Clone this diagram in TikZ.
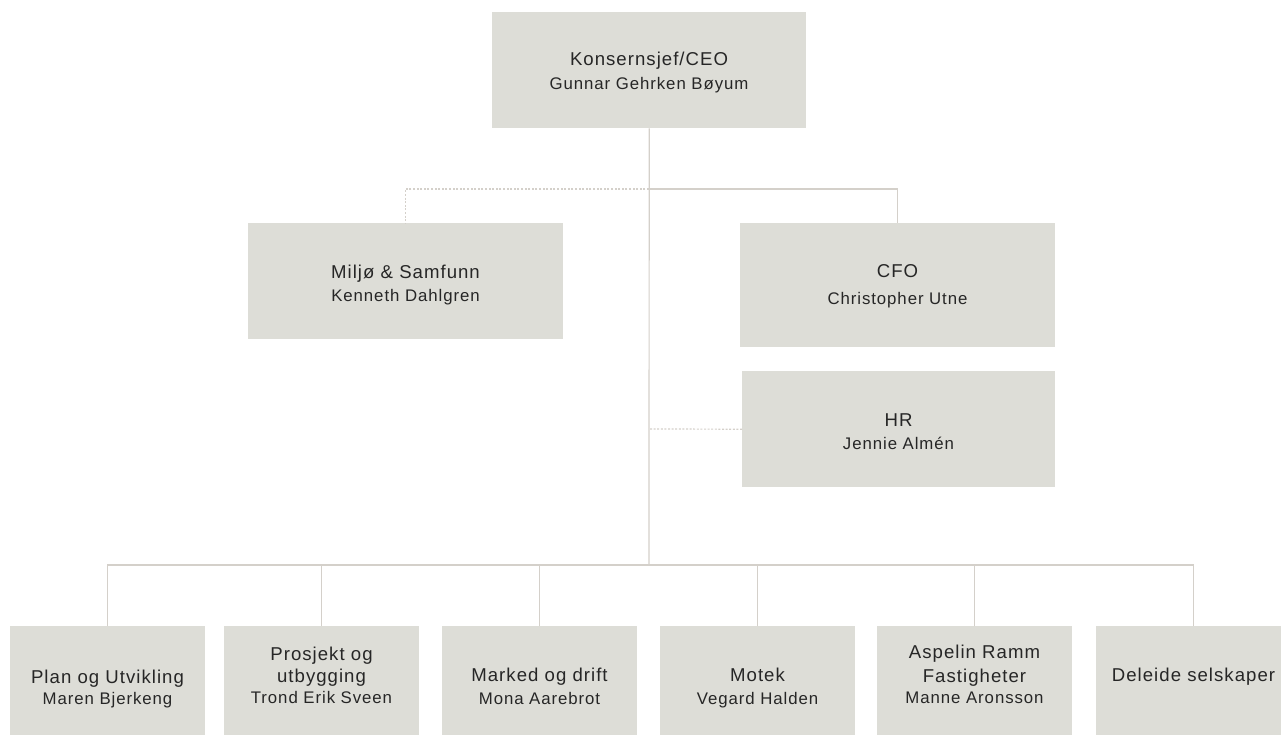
\documentclass[tikz,border=0pt]{standalone}
\usepackage{fontspec}
\setmainfont[LetterSpace=5.5]{Liberation Sans}
\definecolor{boxfill}{RGB}{221,221,215}
\definecolor{linec}{RGB}{212,208,202}
\definecolor{txtc}{RGB}{38,38,38}
\begin{document}
\begin{tikzpicture}[x=1pt,y=-1pt,
  box/.style={fill=boxfill, draw=none, anchor=north west, inner sep=0pt, minimum height=116pt},
  hd/.style={anchor=base, inner sep=0pt, text=txtc, font=\fontsize{18.6}{22}\selectfont},
  nm/.style={anchor=base, inner sep=0pt, text=txtc, font=\fontsize{16.8}{20}\selectfont},
  conn/.style={draw=linec, line width=1.2pt},
  dotconn/.style={draw=linec, line width=1.2pt, dash pattern=on 2pt off 1.6pt}]
\useasboundingbox (0,0) rectangle (1281,735);
% boxes
\node[box, minimum width=314pt] (ceo) at (492,12) {};
\node[box, minimum width=315pt] (milj) at (248,223) {};
\node[box, minimum width=315pt, minimum height=124pt] (cfo) at (740,223) {};
\node[box, minimum width=313pt] (hr) at (742,371) {};
\node[box, minimum width=195pt] (b1) at (10,626) {};
\node[box, minimum width=195pt] (b2) at (224,626) {};
\node[box, minimum width=195pt] (b3) at (442,626) {};
\node[box, minimum width=195pt] (b4) at (660,626) {};
\node[box, minimum width=195pt] (b5) at (877,626) {};
\node[box, minimum width=195pt] (b6) at (1096,626) {};
% connectors
\coordinate (bus) at (649,565);
\coordinate (j1) at (649,189);
\coordinate (j2) at (649,429);
\draw[dotconn] (j1) -| (milj.north);
\draw[dotconn] (hr.west) -- (j2);
\draw[conn] (ceo.south) -- (bus);
\draw[conn] (j1) -| (cfo.north);
\draw[conn] (b1.north) |- (bus) -| (b6.north);
\draw[conn] (b2.north) -- (b2.north |- bus);
\draw[conn] (b3.north) -- (b3.north |- bus);
\draw[conn] (b4.north) -- (b4.north |- bus);
\draw[conn] (b5.north) -- (b5.north |- bus);
% texts
\node[hd] (ceoa) at (649,65.7) {Konsernsjef/CEO};
\node[nm] (ceob) at (649,89.3) {Gunnar Gehrken Bøyum};
\node[hd] (milja) at (405.5,278) {Miljø \& Samfunn};
\node[nm] (miljb) at (405.5,301.7) {Kenneth Dahlgren};
\node[hd] (cfoa) at (897.5,277.7) {CFO};
\node[nm] (cfob) at (897.5,304.3) {Christopher Utne};
\node[hd] (hra) at (898.5,426) {HR};
\node[nm] (hrb) at (898.5,449) {Jennie Almén};
\node[hd] (b1a) at (107.5,683) {Plan og Utvikling};
\node[nm] (b1b) at (107.5,704.5) {Maren Bjerkeng};
\node[hd] (b2a) at (321.5,660) {Prosjekt og};
\node[hd] (b2b) at (321.5,682) {utbygging};
\node[nm] (b2c) at (321.5,703.5) {Trond Erik Sveen};
\node[hd] (b3a) at (539.5,681.5) {Marked og drift};
\node[nm] (b3b) at (539.5,704) {Mona Aarebrot};
\node[hd] (b4a) at (757.5,681.5) {Motek};
\node[nm] (b4b) at (757.5,704) {Vegard Halden};
\node[hd] (b5a) at (974.5,658) {Aspelin Ramm};
\node[hd] (b5b) at (974.5,682) {Fastigheter};
\node[nm] (b5c) at (974.5,703.5) {Manne Aronsson};
\node[hd] (b6a) at (1193.5,681.5) {Deleide selskaper};
\end{tikzpicture}
\end{document}
